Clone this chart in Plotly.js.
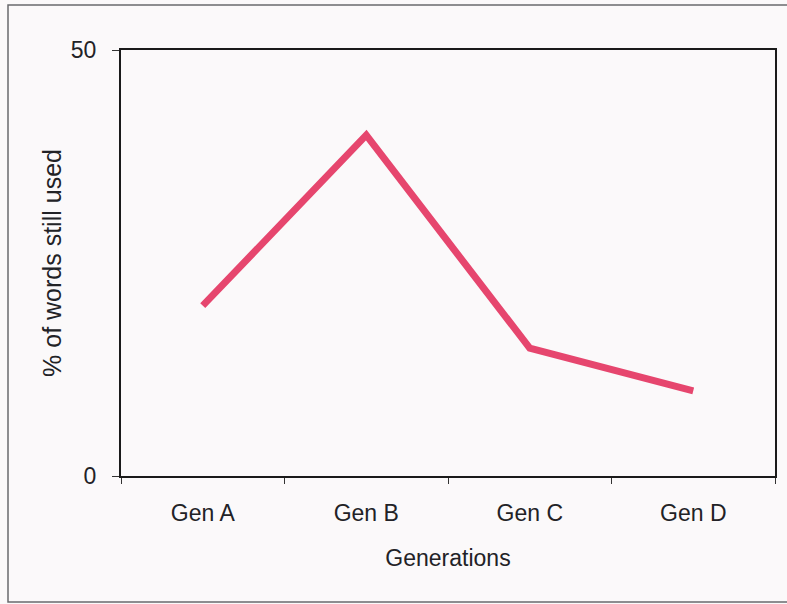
<!DOCTYPE html>
<html>
<head>
<meta charset="utf-8">
<script src="https://cdn.plot.ly/plotly-3.0.1.min.js"></script>
<style>
  html, body { margin: 0; padding: 0; background: #fbf9fa; }
  #chart { width: 787px; height: 604px; }
</style>
</head>
<body>
<div id="chart"></div>
<script>
// Share of words still in use across generations
const generations = ['Gen A', 'Gen B', 'Gen C', 'Gen D'];
const wordsStillUsed = [20, 40, 15, 10];
const yTickValues = [0, 50];
const yTickLabels = ['0', '50'];

const FONT = 'Arial, "Liberation Sans", sans-serif';
const INK = '#222226';

const trace = {
  type: 'scatter',
  mode: 'lines',
  x: generations,
  y: wordsStillUsed,
  line: { color: '#e6466e', width: 7 },
  hoverinfo: 'x+y'
};

const layout = {
  width: 787,
  height: 604,
  paper_bgcolor: '#fbf9fa',
  plot_bgcolor: '#fbf9fa',
  showlegend: false,
  margin: { l: 121, r: 12, t: 50, b: 128 },
  font: { family: FONT, size: 23, color: INK },
  xaxis: {
    type: 'category',
    range: [-0.5, 3.5],
    tickson: 'boundaries',
    ticks: 'outside',
    ticklen: 6,
    tickwidth: 1,
    tickcolor: '#333',
    showline: true,
    linecolor: '#1a1a1a',
    linewidth: 2,
    mirror: true,
    showgrid: false,
    zeroline: false,
    tickfont: { family: FONT, size: 23, color: INK },
    ticklabelstandoff: 15,
    title: { text: 'Generations', font: { family: FONT, size: 23, color: INK }, standoff: 25 },
    automargin: false,
    fixedrange: true
  },
  yaxis: {
    range: [0, 50],
    tickvals: yTickValues,
    ticktext: yTickLabels,
    ticks: 'outside',
    ticklen: 7,
    tickwidth: 1,
    tickcolor: '#333',
    showline: true,
    linecolor: '#1a1a1a',
    linewidth: 2,
    mirror: true,
    showgrid: false,
    zeroline: false,
    tickfont: { family: FONT, size: 23, color: INK },
    ticklabelstandoff: 11,
    title: { text: '% of words still used', font: { family: FONT, size: 25, color: INK }, standoff: 2 },
    automargin: false,
    fixedrange: true
  },
  shapes: [
    {
      // outer chart frame
      type: 'rect',
      xref: 'paper', yref: 'paper',
      x0: (8 - 121) / 654, x1: (800 - 121) / 654,
      y0: (476 - 602) / 426, y1: (476 - 5) / 426,
      line: { color: '#6a6a6e', width: 1.5 },
      fillcolor: 'rgba(0,0,0,0)',
      layer: 'below'
    }
  ]
};

Plotly.newPlot('chart', [trace], layout, { displayModeBar: false, staticPlot: true });
</script>
</body>
</html>
